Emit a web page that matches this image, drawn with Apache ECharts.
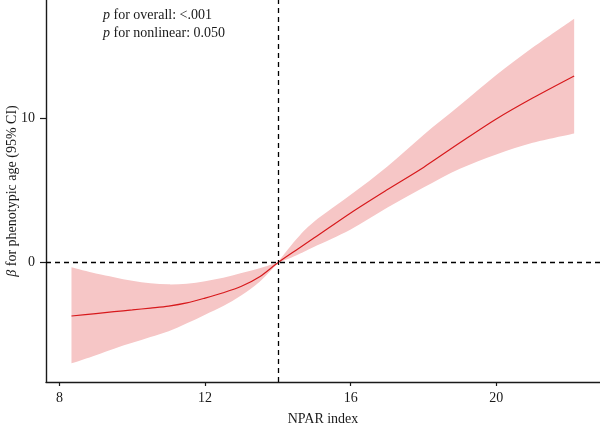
<!DOCTYPE html>
<html>
<head>
<meta charset="utf-8">
<script src="https://cdn.jsdelivr.net/npm/echarts@6/dist/echarts.min.js"></script>
<style>
  html, body { margin: 0; padding: 0; background: #fff; }
  #main { width: 600px; height: 423px; }
</style>
</head>
<body>
<div id="main"></div>
<script>
// NPAR index values
const npar = [8.33, 9, 9.5, 10, 10.5, 11, 11.5, 12, 12.5, 13, 13.5, 14, 14.5, 15, 16, 17, 18, 19, 20, 21, 22.14];
// beta estimate and 95% CI
const beta = [-3.69, -3.52, -3.39, -3.27, -3.14, -3.0, -2.78, -2.45, -2.08, -1.63, -0.97, 0, 0.87, 1.72, 3.45, 5.05, 6.6, 8.3, 9.95, 11.4, 12.93];
const upper = [-0.32, -0.75, -1.0, -1.25, -1.42, -1.5, -1.45, -1.28, -1.05, -0.72, -0.38, 0.02, 1.6, 2.85, 4.7, 6.65, 8.85, 10.9, 13.0, 14.9, 16.9];
const lower = [-6.97, -6.4, -5.95, -5.55, -5.15, -4.75, -4.2, -3.6, -3.0, -2.25, -1.32, -0.02, 0.5, 1.1, 2.3, 3.8, 5.2, 6.5, 7.5, 8.3, 8.95];
const xTicks = [8, 12, 16, 20];
const yTicks = [0, 10];
const refX = 14;
const refY = 0;

const font = 'Liberation Serif';
const ink = '#1a1a1a';
const pinch = npar.indexOf(refX);

// catmull-rom through screen points -> svg path segments
function smoothPath(pts) {
  let d = '';
  for (let i = 0; i < pts.length - 1; i++) {
    const p0 = pts[i - 1] || pts[i];
    const p1 = pts[i];
    const p2 = pts[i + 1];
    const p3 = pts[i + 2] || p2;
    const c1 = [p1[0] + (p2[0] - p0[0]) / 6, p1[1] + (p2[1] - p0[1]) / 6];
    const c2 = [p2[0] - (p3[0] - p1[0]) / 6, p2[1] - (p3[1] - p1[1]) / 6];
    d += ' C' + c1[0] + ',' + c1[1] + ' ' + c2[0] + ',' + c2[1] + ' ' + p2[0] + ',' + p2[1];
  }
  return d;
}
// smooth on each side of the pinch point
function edge(pts, k) {
  return smoothPath(pts.slice(0, k + 1)) + smoothPath(pts.slice(k));
}

const chart = echarts.init(document.getElementById('main'));

const option = {
  animation: false,
  grid: { left: 46, right: 0, top: 0, bottom: 41, containLabel: false, outerBoundsMode: 'none' },
  graphic: [
    {
      type: 'text', left: 103, top: 8,
      style: {
        text: '{i|p} for overall: <.001',
        font: '14px ' + font, fill: ink,
        rich: { i: { fontStyle: 'italic', fontFamily: font, fontSize: 14, fill: ink } }
      }
    },
    {
      type: 'text', left: 103, top: 26,
      style: {
        text: '{i|p} for nonlinear: 0.050',
        font: '14px ' + font, fill: ink,
        rich: { i: { fontStyle: 'italic', fontFamily: font, fontSize: 14, fill: ink } }
      }
    }
  ],
  xAxis: {
    type: 'value',
    min: 7.63,
    max: 22.85,
    name: 'NPAR index',
    nameLocation: 'middle',
    nameGap: 30,
    nameMoveOverlap: false,
    nameTextStyle: { fontFamily: font, fontSize: 14, color: ink },
    splitLine: { show: false },
    axisLine: { onZero: false, lineStyle: { color: ink, width: 1.4 } },
    axisTick: { customValues: xTicks, length: 4, lineStyle: { color: ink, width: 1.2 } },
    axisLabel: { customValues: xTicks, fontFamily: font, fontSize: 14, color: ink, margin: 9 }
  },
  yAxis: {
    type: 'value',
    min: -8.26,
    max: 18.19,
    name: '{i|β} for phenotypic age (95% CI)',
    nameLocation: 'middle',
    nameGap: 27,
    nameMoveOverlap: false,
    nameTextStyle: {
      fontFamily: font, fontSize: 14, color: ink,
      rich: { i: { fontStyle: 'italic', fontFamily: font, fontSize: 14, color: ink } }
    },
    splitLine: { show: false },
    axisLine: { show: true, onZero: false, lineStyle: { color: ink, width: 1.4 } },
    axisTick: { show: true, customValues: yTicks, length: 6, lineStyle: { color: ink, width: 1.2 } },
    axisLabel: { customValues: yTicks, fontFamily: font, fontSize: 14, color: ink, margin: 11 }
  },
  series: [
    {
      // 95% CI band
      type: 'custom',
      silent: true,
      data: [[npar[0], beta[0]]],
      renderItem: function (params, api) {
        const up = npar.map((x, i) => api.coord([x, upper[i]]));
        const lo = npar.map((x, i) => api.coord([x, lower[i]])).reverse();
        const d = 'M' + up[0][0] + ',' + up[0][1] + edge(up, pinch) +
          ' L' + lo[0][0] + ',' + lo[0][1] + edge(lo, npar.length - 1 - pinch) + ' Z';
        return {
          type: 'path',
          shape: { pathData: d },
          style: { fill: '#f6c6c6' }
        };
      },
      z: 1
    },
    {
      type: 'line',
      data: npar.map((x, i) => [x, beta[i]]),
      smooth: 0.3,
      showSymbol: false,
      lineStyle: { color: '#d7191c', width: 1.2 },
      z: 3,
      markLine: {
        silent: true,
        symbol: 'none',
        label: { show: false },
        lineStyle: { color: '#000', type: [5, 4], width: 1.3 },
        data: [{ xAxis: refX }, { yAxis: refY }]
      }
    }
  ]
};

chart.setOption(option);
</script>
</body>
</html>
